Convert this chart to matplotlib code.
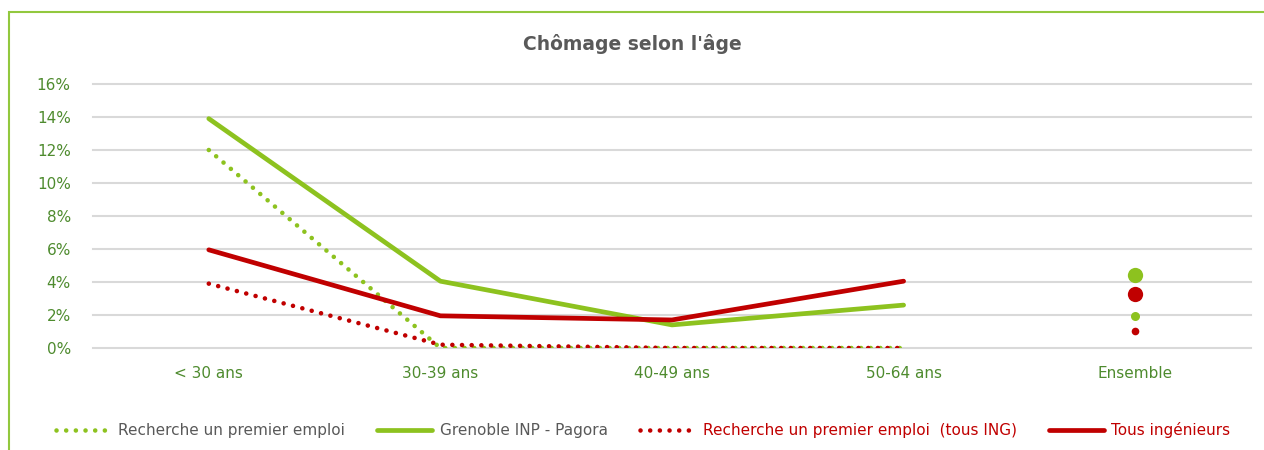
import numpy as np
import matplotlib.pyplot as plt
from matplotlib.patches import Rectangle

# Data (unemployment rate, %)
categories = ["< 30 ans", "30-39 ans", "40-49 ans", "50-64 ans", "Ensemble"]
age_groups = categories[:4]
pagora = [13.9, 4.05, 1.4, 2.6]
tous_ing = [5.95, 1.95, 1.7, 4.05]
premier_pagora = [12.0, 0.0, 0.0, 0.0]
premier_ing = [3.9, 0.2, 0.0, 0.0]
ens_pagora = 4.45
ens_ing = 3.25
ens_premier_pagora = 1.95
ens_premier_ing = 1.05

GREEN = "#8DC21F"
RED = "#C00000"
TICK_GREEN = "#4E8B2E"
GRAY = "#595959"

plt.rcParams['font.family'] = ['DejaVu Sans']

fig = plt.figure(figsize=(12.64, 4.5), dpi=100)
ax = fig.add_axes([93 / 1264, 1 - 348 / 450, (1251 - 93) / 1264, (348 - 84) / 450])

x = np.arange(len(age_groups))
xe = len(categories) - 1

dot = dict(lw=3.3, dashes=(0.01, 2.1), dash_capstyle='round')
ax.plot(x, premier_pagora, color=GREEN, label="Recherche un premier emploi",
        zorder=3, **dot)
ax.plot(x, pagora, color=GREEN, lw=3.4, solid_capstyle='round',
        label="Grenoble INP - Pagora", zorder=3)
ax.plot(x, premier_ing, color=RED, label="Recherche un premier emploi  (tous ING)",
        zorder=4, **dot)
ax.plot(x, tous_ing, color=RED, lw=3.4, solid_capstyle='round',
        label="Tous ingénieurs", zorder=4)

ax.plot([xe], [ens_pagora], 'o', color=GREEN, ms=11, mew=0, zorder=5)
ax.plot([xe], [ens_ing], 'o', color=RED, ms=11, mew=0, zorder=5)
ax.plot([xe], [ens_premier_pagora], 'o', color=GREEN, ms=6.5, mew=0, zorder=5)
ax.plot([xe], [ens_premier_ing], 'o', color=RED, ms=5.5, mew=0, zorder=5)

ax.set_xlim(-0.5, len(categories) - 0.5)
ax.set_ylim(0, 16)
ax.set_yticks(np.arange(0, 17, 2))
ax.set_yticklabels([f"{v}%" for v in range(0, 17, 2)])
ax.set_xticks(np.arange(len(categories)))
ax.set_xticklabels(categories)
ax.tick_params(axis='both', length=0, labelsize=11, labelcolor=TICK_GREEN)
ax.tick_params(axis='y', pad=16)
ax.tick_params(axis='x', pad=13)
ax.grid(axis='y', color="#D9D9D9", lw=1.5)
for gl in ax.get_ygridlines():
    gl.set_clip_on(False)
ax.set_axisbelow(True)
for s in ax.spines.values():
    s.set_visible(False)

fig.text(0.5, 1 - 44 / 450, "Chômage selon l'âge", ha='center', va='center',
         fontsize=13.5, fontweight='bold', color=GRAY)

leg = fig.legend(loc='center', bbox_to_anchor=(643 / 1264, 1 - 430 / 450), ncol=4,
                 frameon=False, fontsize=11, handlelength=3.6, columnspacing=2.1,
                 handletextpad=0.5)
for t, c in zip(leg.get_texts(), [GRAY, GRAY, RED, RED]):
    t.set_color(c)

# outer frame
fig.patches.append(Rectangle((9 / 1264, -0.1), 1.2, 1.1 - 12 / 450,
                             transform=fig.transFigure, fill=False,
                             edgecolor="#92C83E", lw=1.5))

fig.savefig("out.png", dpi=100)
